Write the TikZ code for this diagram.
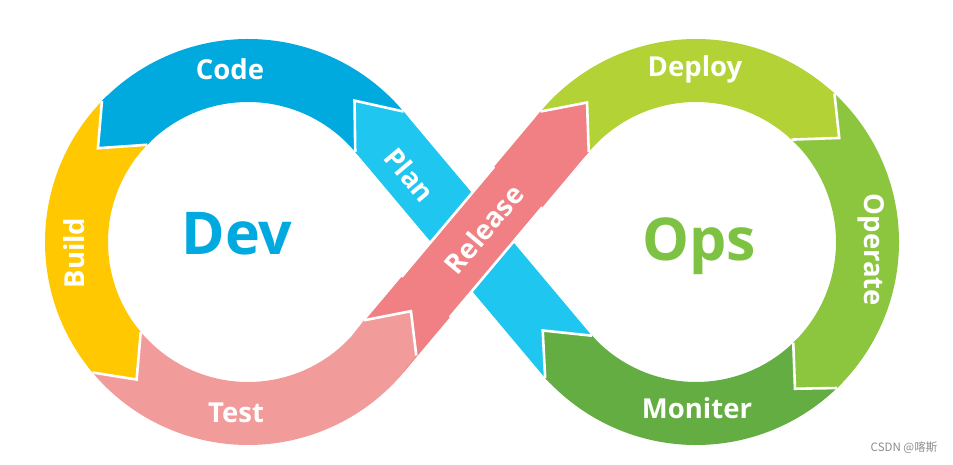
\documentclass[tikz,border=0pt]{standalone}
\usepackage{fontspec}
\setmainfont{Open Sans}
\newfontfamily\cjkfont{Noto Sans CJK SC}
\usetikzlibrary{calc}
\definecolor{cCode}{HTML}{00AADE}
\definecolor{cPlan}{HTML}{1EC6F0}
\definecolor{cBuild}{HTML}{FFC800}
\definecolor{cTest}{HTML}{F29B9B}
\definecolor{cRel}{HTML}{F08083}
\definecolor{cDeploy}{HTML}{B2D235}
\definecolor{cOperate}{HTML}{8CC63F}
\definecolor{cMon}{HTML}{63AD43}
\definecolor{cDev}{HTML}{00A9E0}
\definecolor{cOps}{HTML}{7DC243}
\newcommand\myband[4]{%
  \fill[#4] ([shift={(#1)}]#2:140) arc[start angle=#2, end angle=#3, radius=140]
    -- ([shift={(#1)}]#3:203) arc[start angle=#3, end angle=#2, radius=203] -- cycle;}
% center, back angle, end angle, tip angle, colour
\newcommand\myhead[5]{%
  \fill[#5] ([shift={(#1)}]#2:140) -- ([shift={(#1)}]#3:140) -- ([shift={(#1)}]#4:177)
    -- ([shift={(#1)}]#3:203) -- ([shift={(#1)}]#2:203) -- cycle;
  \draw[sep] ([shift={(#1)}]#3:140) -- ([shift={(#1)}]#4:177) -- ([shift={(#1)}]#3:203);}
\begin{document}
\begin{tikzpicture}[x=1pt,y=1pt,
  sep/.style={white, line width=2.6, line join=miter},
  lbl/.style={text=white, inner sep=0, font=\fontsize{27.5}{27.5}\selectfont\bfseries},
  big/.style={inner sep=0, font=\fontsize{59}{59}\selectfont\bfseries}]
\useasboundingbox[fill=white] (0,0) rectangle (953,464);
\coordinate (L) at (248,222);
\coordinate (R) at (696,222);
% ring bodies
\myband{L}{40}{136}{cCode}
\myband{L}{136}{220}{cBuild}
\myband{L}{220}{326}{cTest}
\myband{R}{140}{47}{cDeploy}
\myband{R}{47}{-46}{cOperate}
\myband{R}{-46}{-138}{cMon}
% straight strips
\coordinate (PlA) at ([shift={(R)}]220:140);
\coordinate (PlB) at ([shift={(L)}]40:203);
\coordinate (PlC) at ([shift={(L)}]40:140);
\coordinate (PlD) at ([shift={(R)}]220:203);
\fill[cPlan] ([shift={(R)}]223:140) arc[start angle=223, end angle=220, radius=140]
  -- (PlB) -- (PlC) -- (PlD) arc[start angle=220, end angle=223, radius=203] -- cycle;
\coordinate (RlA) at ([shift={(L)}]320:140);
\coordinate (RlB) at ([shift={(R)}]140:203);
\coordinate (RlC) at ([shift={(R)}]140:140);
\coordinate (RlD) at ([shift={(L)}]320:203);
\fill[cRel] (RlA) -- (RlB) -- (RlC) -- (RlD) -- cycle;
\draw[sep] ($(RlA)!0.25!(RlB)$) -- ($(RlA)!0.75!(RlB)$);
\draw[sep] ($(RlD)!0.25!(RlC)$) -- ($(RlD)!0.75!(RlC)$);
% arrow heads
\myhead{L}{134}{136}{148}{cCode}
\myhead{L}{218}{220}{231}{cBuild}
\myhead{L}{318}{326}{337}{cTest}
\myhead{R}{142}{140}{128}{cRel}
\myhead{R}{49}{47}{36}{cDeploy}
\myhead{R}{-44}{-46}{-56}{cOperate}
\myhead{R}{-136}{-138}{-150}{cMon}
\myhead{L}{38}{40}{53}{cPlan}
% labels
\node[lbl, anchor=base] (code) at (230,384) {Code};
\node[lbl, anchor=base, rotate=90] (build) at (84,211) {Build};
\node[lbl, anchor=base] (test) at (236,42) {Test};
\node[lbl, rotate=-50] (plan) at (410,289) {Plan};
\node[lbl, rotate=50] (release) at (484,235) {Release};
\node[lbl, anchor=base] (deploy) at (695,387) {Deploy};
\node[lbl, anchor=base, rotate=-90] (operate) at (864,214) {Operate};
\node[lbl, anchor=base] (moniter) at (697,46) {Moniter};
\node[big, text=cDev, anchor=base] (dev) at (237,209) {Dev};
\node[big, text=cOps, anchor=base] (ops) at (699,204) {Ops};
\node[inner sep=0, text=black!45, font=\cjkfont\fontsize{11.5}{11.5}\selectfont] (mark) at (904,16) {CSDN @喀斯};
\end{tikzpicture}
\end{document}
